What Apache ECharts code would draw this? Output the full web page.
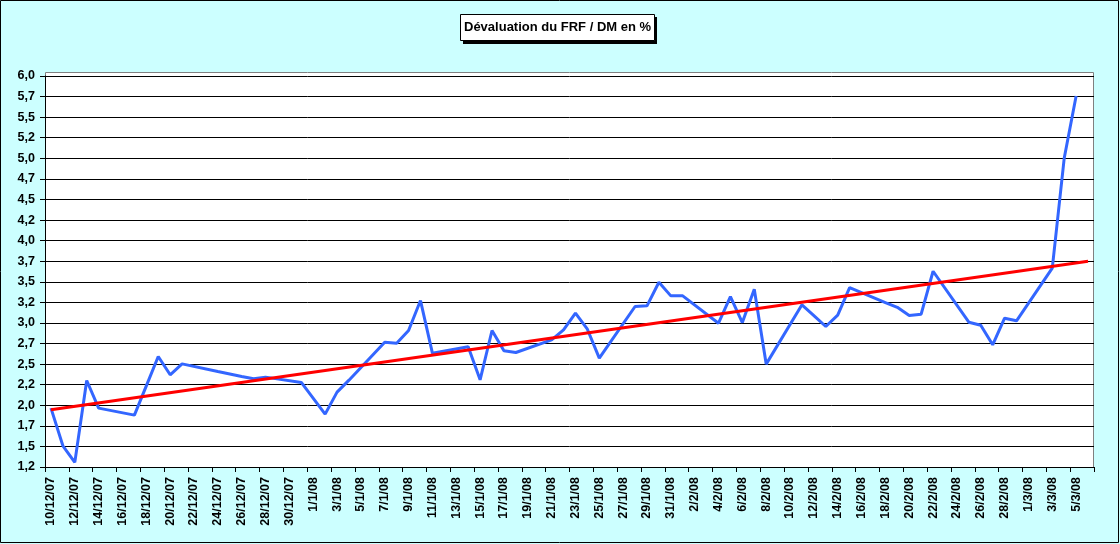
<!DOCTYPE html>
<html lang="fr">
<head>
  <meta charset="UTF-8" />
  <title>Dévaluation du FRF / DM en %</title>
  <script src="https://cdn.jsdelivr.net/npm/echarts@6.0.0/dist/echarts.min.js"></script>
  <style>
    html, body { margin: 0; padding: 0; background: #ccffff; }
    #chart { width: 1120px; height: 544px; }
  </style>
</head>
<body>
  <div id="chart"></div>
  <script>
    // jours (catégories), du 10/12/07 au 6/3/08
    const jours = [
      '10/12/07','11/12/07','12/12/07','13/12/07','14/12/07','15/12/07','16/12/07','17/12/07','18/12/07','19/12/07',
      '20/12/07','21/12/07','22/12/07','23/12/07','24/12/07','25/12/07','26/12/07','27/12/07','28/12/07','29/12/07',
      '30/12/07','31/12/07',
      '1/1/08','2/1/08','3/1/08','4/1/08','5/1/08','6/1/08','7/1/08','8/1/08','9/1/08','10/1/08',
      '11/1/08','12/1/08','13/1/08','14/1/08','15/1/08','16/1/08','17/1/08','18/1/08','19/1/08','20/1/08',
      '21/1/08','22/1/08','23/1/08','24/1/08','25/1/08','26/1/08','27/1/08','28/1/08','29/1/08','30/1/08','31/1/08',
      '1/2/08','2/2/08','3/2/08','4/2/08','5/2/08','6/2/08','7/2/08','8/2/08','9/2/08','10/2/08',
      '11/2/08','12/2/08','13/2/08','14/2/08','15/2/08','16/2/08','17/2/08','18/2/08','19/2/08','20/2/08',
      '21/2/08','22/2/08','23/2/08','24/2/08','25/2/08','26/2/08','27/2/08','28/2/08','29/2/08',
      '1/3/08','2/3/08','3/3/08','4/3/08','5/3/08','6/3/08'
    ];

    // dévaluation en %, null = pas de cotation (week-end, fériés)
    const devaluation = [
      1.965, 1.508, 1.306, 2.301, 1.965, null, null, 1.88, 2.236, 2.593,
      2.37, 2.503, null, null, 2.41, null, 2.35, 2.321, 2.342, null,
      null, 2.277,
      null, 1.892, 2.16, 2.305, null, null, 2.766, 2.754, 2.908, 3.272,
      2.633, null, null, 2.71, 2.309, 2.908, 2.661, 2.641, null, null,
      2.795, 2.916, 3.119, 2.924, 2.572, null, null, 3.2, 3.208, 3.495, 3.329,
      3.329, null, null, 2.997, 3.321, 3.005, 3.41, 2.5, null, null,
      3.22, 3.09, 2.957, 3.094, 3.43, null, null, 3.248, 3.19, 3.09,
      3.106, 3.628, null, null, 3.009, 2.973, 2.734, 3.058, 3.026,
      null, null, 3.665, 5.0, 5.757, null
    ];

    // courbe de tendance (extrémités)
    const tendance = [['10/12/07', 1.945], ['6/3/08', 3.75]];

    const chart = echarts.init(document.getElementById('chart'));

    // étiquettes Excel tronquées à une décimale : 1,2 1,5 1,7 ...
    function formatY(v) {
      const t = Math.floor(v * 10 + 1e-6) / 10;
      return t.toFixed(1).replace('.', ',');
    }

    const police = 'Liberation Sans, Arial, sans-serif';

    const option = {
      backgroundColor: '#ccffff',
      animation: false,
      title: {
        text: 'Dévaluation du FRF / DM en %',
        left: 460,
        top: 14,
        padding: [6, 4, 6, 4],
        backgroundColor: '#ffffff',
        borderColor: '#000000',
        borderWidth: 1,
        textStyle: {
          fontFamily: police,
          fontSize: 13,
          lineHeight: 15,
          fontWeight: 'bold',
          color: '#000000'
        }
      },
      graphic: [
        // cadre du graphique
        {
          type: 'rect', z: 0,
          shape: { x: 0.5, y: 0.5, width: 1118, height: 542 },
          style: { fill: null, stroke: '#000000', lineWidth: 1 }
        },
        // ombre du titre
        {
          type: 'rect', z: 5,
          shape: { x: 463, y: 17, width: 194, height: 27 },
          style: { fill: '#000000' }
        },
        // zone de traçage
        {
          type: 'rect', z: -1,
          shape: { x: 45.5, y: 72.5, width: 1048, height: 395 },
          style: { fill: '#ffffff', stroke: '#808080', lineWidth: 1 }
        }
      ],
      grid: {
        left: 45,
        right: 26,
        top: 76,
        bottom: 77,
        containLabel: false
      },
      xAxis: {
        type: 'category',
        data: jours,
        boundaryGap: true,
        axisLine: { show: true, lineStyle: { color: '#000000', width: 1 } },
        axisTick: { show: true, interval: 1, length: 5, lineStyle: { color: '#000000' } },
        axisLabel: {
          interval: 1,
          rotate: 90,
          margin: 10,
          color: '#000000',
          fontFamily: police,
          fontSize: 12.5,
          fontWeight: 'bold'
        },
        splitLine: { show: false }
      },
      yAxis: {
        type: 'value',
        min: 1.25,
        max: 6.0,
        interval: 0.25,
        axisLine: { show: true, lineStyle: { color: '#000000', width: 1 } },
        axisTick: { show: true, length: 5, lineStyle: { color: '#000000' } },
        axisLabel: {
          margin: 10,
          color: '#000000',
          fontFamily: police,
          fontSize: 12.5,
          fontWeight: 'bold',
          formatter: formatY
        },
        splitLine: { show: true, lineStyle: { color: '#000000', width: 1 } }
      },
      series: [
        {
          name: 'FRF / DM',
          type: 'line',
          data: devaluation,
          connectNulls: true,
          showSymbol: false,
          symbol: 'none',
          lineStyle: { color: '#3366ff', width: 3 },
          z: 3
        },
        {
          name: 'Tendance',
          type: 'line',
          data: tendance,
          showSymbol: false,
          symbol: 'none',
          lineStyle: { color: '#ff0000', width: 3 },
          z: 4
        }
      ]
    };

    chart.setOption(option);
  </script>
</body>
</html>
